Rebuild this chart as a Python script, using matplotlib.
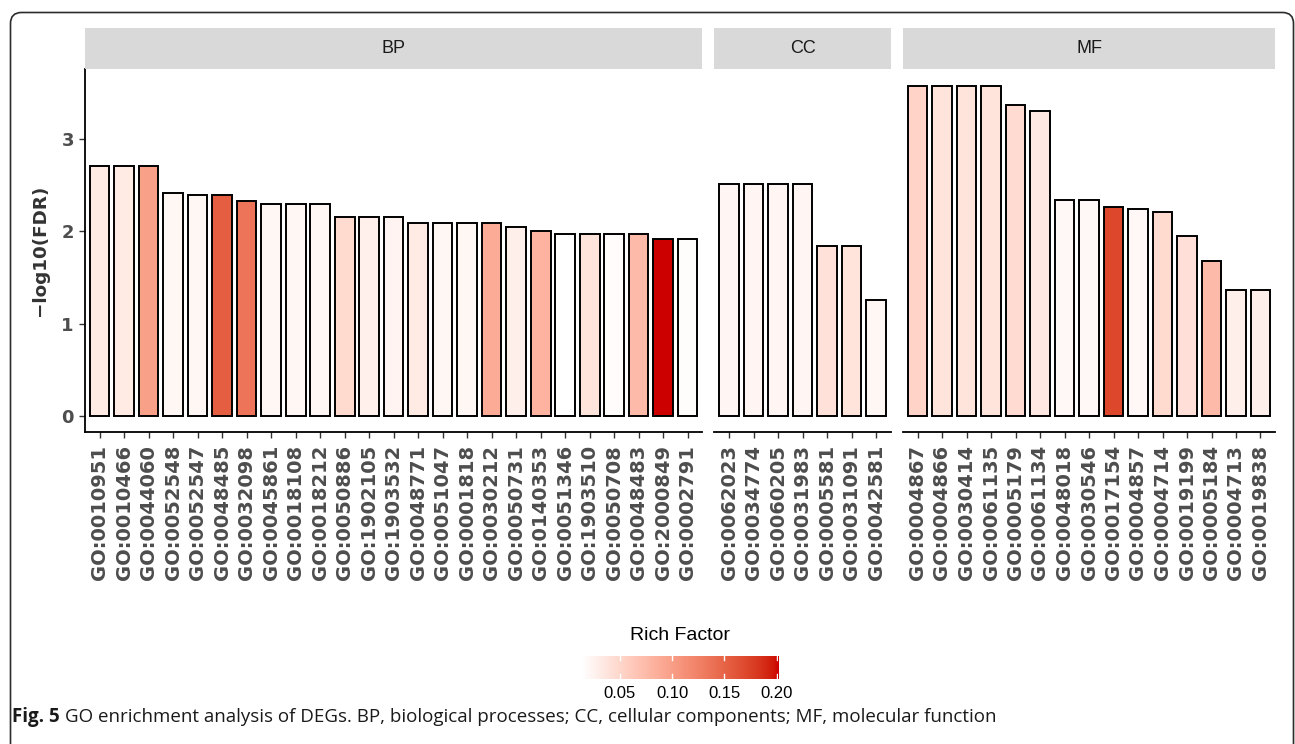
import numpy as np
import matplotlib
matplotlib.use("Agg")
import matplotlib.pyplot as plt
import matplotlib.colors as mcolors
from matplotlib.patches import FancyBboxPatch

# ---- data -------------------------------------------------------------
bp_terms = ["GO:0010951", "GO:0010466", "GO:0044060", "GO:0052548", "GO:0052547",
            "GO:0048485", "GO:0032098", "GO:0045861", "GO:0018108", "GO:0018212",
            "GO:0050886", "GO:1902105", "GO:1903532", "GO:0048771", "GO:0051047",
            "GO:0001818", "GO:0030212", "GO:0050731", "GO:0140353", "GO:0051346",
            "GO:1903510", "GO:0050708", "GO:0048483", "GO:2000849", "GO:0002791"]
bp_fdr = [2.71, 2.71, 2.71, 2.42, 2.39, 2.39, 2.33, 2.30, 2.30, 2.30,
          2.16, 2.16, 2.16, 2.09, 2.09, 2.09, 2.09, 2.05, 2.00, 1.97,
          1.97, 1.97, 1.97, 1.92, 1.92]
bp_rich = [0.032, 0.032, 0.098, 0.021, 0.021, 0.154, 0.136, 0.021, 0.021, 0.021,
           0.047, 0.027, 0.023, 0.032, 0.021, 0.021, 0.089, 0.028, 0.081, 0.0134,
           0.038, 0.017, 0.075, 0.2015, 0.016]

cc_terms = ["GO:0062023", "GO:0034774", "GO:0060205", "GO:0031983", "GO:0005581",
            "GO:0031091", "GO:0042581"]
cc_fdr = [2.51, 2.51, 2.51, 2.51, 1.84, 1.84, 1.25]
cc_rich = [0.022, 0.022, 0.022, 0.022, 0.040, 0.038, 0.021]

mf_terms = ["GO:0004867", "GO:0004866", "GO:0030414", "GO:0061135", "GO:0005179",
            "GO:0061134", "GO:0048018", "GO:0030546", "GO:0017154", "GO:0004857",
            "GO:0004714", "GO:0019199", "GO:0005184", "GO:0004713", "GO:0019838"]
mf_fdr = [3.58, 3.58, 3.58, 3.58, 3.37, 3.30, 2.34, 2.34, 2.265, 2.24,
          2.21, 1.945, 1.68, 1.365, 1.365]
mf_rich = [0.053, 0.038, 0.038, 0.038, 0.045, 0.034, 0.020, 0.020, 0.170, 0.020,
           0.047, 0.042, 0.075, 0.028, 0.028]

panel_names = ["BP", "CC", "MF"]
legend_ticks = [0.05, 0.10, 0.15, 0.20]


# ---- white -> red3 gradient interpolated in Lab (like ggplot) --------
M = np.array([[0.4124, 0.3576, 0.1805],
              [0.2126, 0.7152, 0.0722],
              [0.0193, 0.1192, 0.9505]])
WHITE = np.array([0.95047, 1.0, 1.08883])

def to_lab(c):
    rgb = np.array(mcolors.to_rgb(c))
    lin = np.where(rgb <= 0.04045, rgb / 12.92, ((rgb + 0.055) / 1.055) ** 2.4)
    xyz = M @ lin / WHITE
    f = np.where(xyz > 0.008856, np.cbrt(xyz), 7.787 * xyz + 16 / 116)
    return np.array([116 * f[1] - 16, 500 * (f[0] - f[1]), 200 * (f[1] - f[2])])

def from_lab(lab):
    fy = (lab[0] + 16) / 116
    f = np.array([fy + lab[1] / 500, fy, fy - lab[2] / 200])
    xyz = np.where(f ** 3 > 0.008856, f ** 3, (f - 16 / 116) / 7.787) * WHITE
    lin = np.linalg.solve(M, xyz)
    lin = np.clip(lin, 0, 1)
    rgb = np.where(lin <= 0.0031308, 12.92 * lin, 1.055 * lin ** (1 / 2.4) - 0.055)
    return np.clip(rgb, 0, 1)

lo, hi = to_lab("white"), to_lab("#CD0000")
cmap = mcolors.ListedColormap([from_lab(lo + t * (hi - lo)) for t in np.linspace(0, 1, 256)])
all_rich = bp_rich + cc_rich + mf_rich
norm = mcolors.Normalize(vmin=min(all_rich), vmax=max(all_rich))

all_fdr = bp_fdr + cc_fdr + mf_fdr
span = max(all_fdr)
ylim = (-0.05 * span, 1.05 * span)

# ---- figure -------------------------------------------------------------
W, H = 1295, 744
fig = plt.figure(figsize=(W / 100, H / 100), dpi=100)

def px(x0, y0, w, h):
    # pixel box (top-left origin) -> figure fraction
    return [x0 / W, 1 - (y0 + h) / H, w / W, h / H]

# rounded frame
bg = fig.add_axes([0, 0, 1, 1], zorder=-5)
bg.set_xlim(0, W)
bg.set_ylim(H, 0)
bg.axis("off")
bg.add_patch(FancyBboxPatch((10.5, 12.5), 1283, 820,
                            boxstyle="round,pad=0,rounding_size=11",
                            fc="white", ec="#2b2b2b", lw=1.2))

tick_col = "#4D4D4D"
panels = [(bp_terms, bp_fdr, bp_rich), (cc_terms, cc_fdr, cc_rich), (mf_terms, mf_fdr, mf_rich)]
unit = (1275.2 - 85 - 2 * 12) / sum(len(p[0]) + 0.2 for p in panels)
x0 = 85.0
top, bottom = 69.0, 432.3
for k, (terms, fdr, rich) in enumerate(panels):
    n = len(terms)
    wpx = (n + 0.2) * unit
    ax = fig.add_axes(px(x0, top, wpx, bottom - top))
    xs = np.arange(n)
    ax.bar(xs, fdr, width=0.8, color=cmap(norm(rich)), edgecolor="black", linewidth=1.4, zorder=3)
    ax.set_xlim(-0.6, n - 0.4)
    ax.set_ylim(*ylim)
    ax.set_xticks(xs)
    ax.set_xticklabels(terms, rotation=90, fontsize=14, fontweight="bold",
                       family="DejaVu Sans", color=tick_col)
    ax.tick_params(axis="x", length=4, width=1.0, color="#333333", pad=5)
    for s in ["top", "right"]:
        ax.spines[s].set_visible(False)
    ax.spines["bottom"].set_linewidth(1.3)
    if k == 0:
        ax.set_yticks([0, 1, 2, 3])
        ax.set_yticklabels(["0", "1", "2", "3"], fontsize=13, fontweight="bold",
                           family="DejaVu Sans", color=tick_col)
        ax.tick_params(axis="y", length=4, width=1.0, color="#333333", pad=4)
        ax.spines["left"].set_linewidth(1.3)
    else:
        ax.spines["left"].set_visible(False)
        ax.set_yticks([])
    ax.set_facecolor("none")

    # facet strip
    st = fig.add_axes(px(x0, 28, wpx, 41))
    st.set_facecolor("#D9D9D9")
    st.set_xticks([])
    st.set_yticks([])
    for s in st.spines.values():
        s.set_visible(False)
    st.text(0.5, 0.5, panel_names[k], ha="center", va="center", fontsize=13,
            family="Liberation Sans", color="#1A1A1A", transform=st.transAxes)
    x0 += wpx + 12

fig.text(40 / W, 1 - 250.6 / H, "\u2212log10(FDR)", rotation=90, ha="center", va="center",
         fontsize=13.2, fontweight="bold", family="DejaVu Sans", color="#333333")

# ---- colour bar legend ------------------------------------------------
cb = fig.add_axes(px(581.7, 655.7, 196.6, 23.3))
grad = np.linspace(norm.vmin, norm.vmax, 400)
cb.imshow(grad[None, :], aspect="auto", cmap=cmap, norm=norm,
          extent=[norm.vmin, norm.vmax, 0, 1])
cb.set_xlim(norm.vmin, norm.vmax)
cb.set_ylim(0, 1)
for v in legend_ticks:
    cb.plot([v, v], [0, 0.2], color="white", lw=1.0)
    cb.plot([v, v], [0.8, 1], color="white", lw=1.0)
cb.set_yticks([])
cb.set_xticks(legend_ticks)
cb.set_xticklabels([f"{v:.2f}" for v in legend_ticks], fontsize=12, family="Liberation Sans", color="black")
cb.tick_params(axis="x", length=0, pad=5)
for s in cb.spines.values():
    s.set_visible(False)
fig.text(680 / W, 1 - 636 / H, "Rich Factor", ha="center", va="center",
         fontsize=14, family="Liberation Sans", color="black")

# ---- caption ----------------------------------------------------------
renderer = fig.canvas.get_renderer()
t1 = fig.text(12 / W, 1 - 722 / H, "Fig. 5", ha="left", va="baseline",
              fontsize=13.5, fontweight="bold", family="Open Sans", color="#1a1a1a")
bb = t1.get_window_extent(renderer)
fig.text(bb.x1 / W + 5 / W, 1 - 722 / H,
         "GO enrichment analysis of DEGs. BP, biological processes; CC, cellular components; MF, molecular function",
         ha="left", va="baseline", fontsize=13.5, family="Open Sans", color="#1a1a1a")

fig.savefig("out.png", dpi=100)
